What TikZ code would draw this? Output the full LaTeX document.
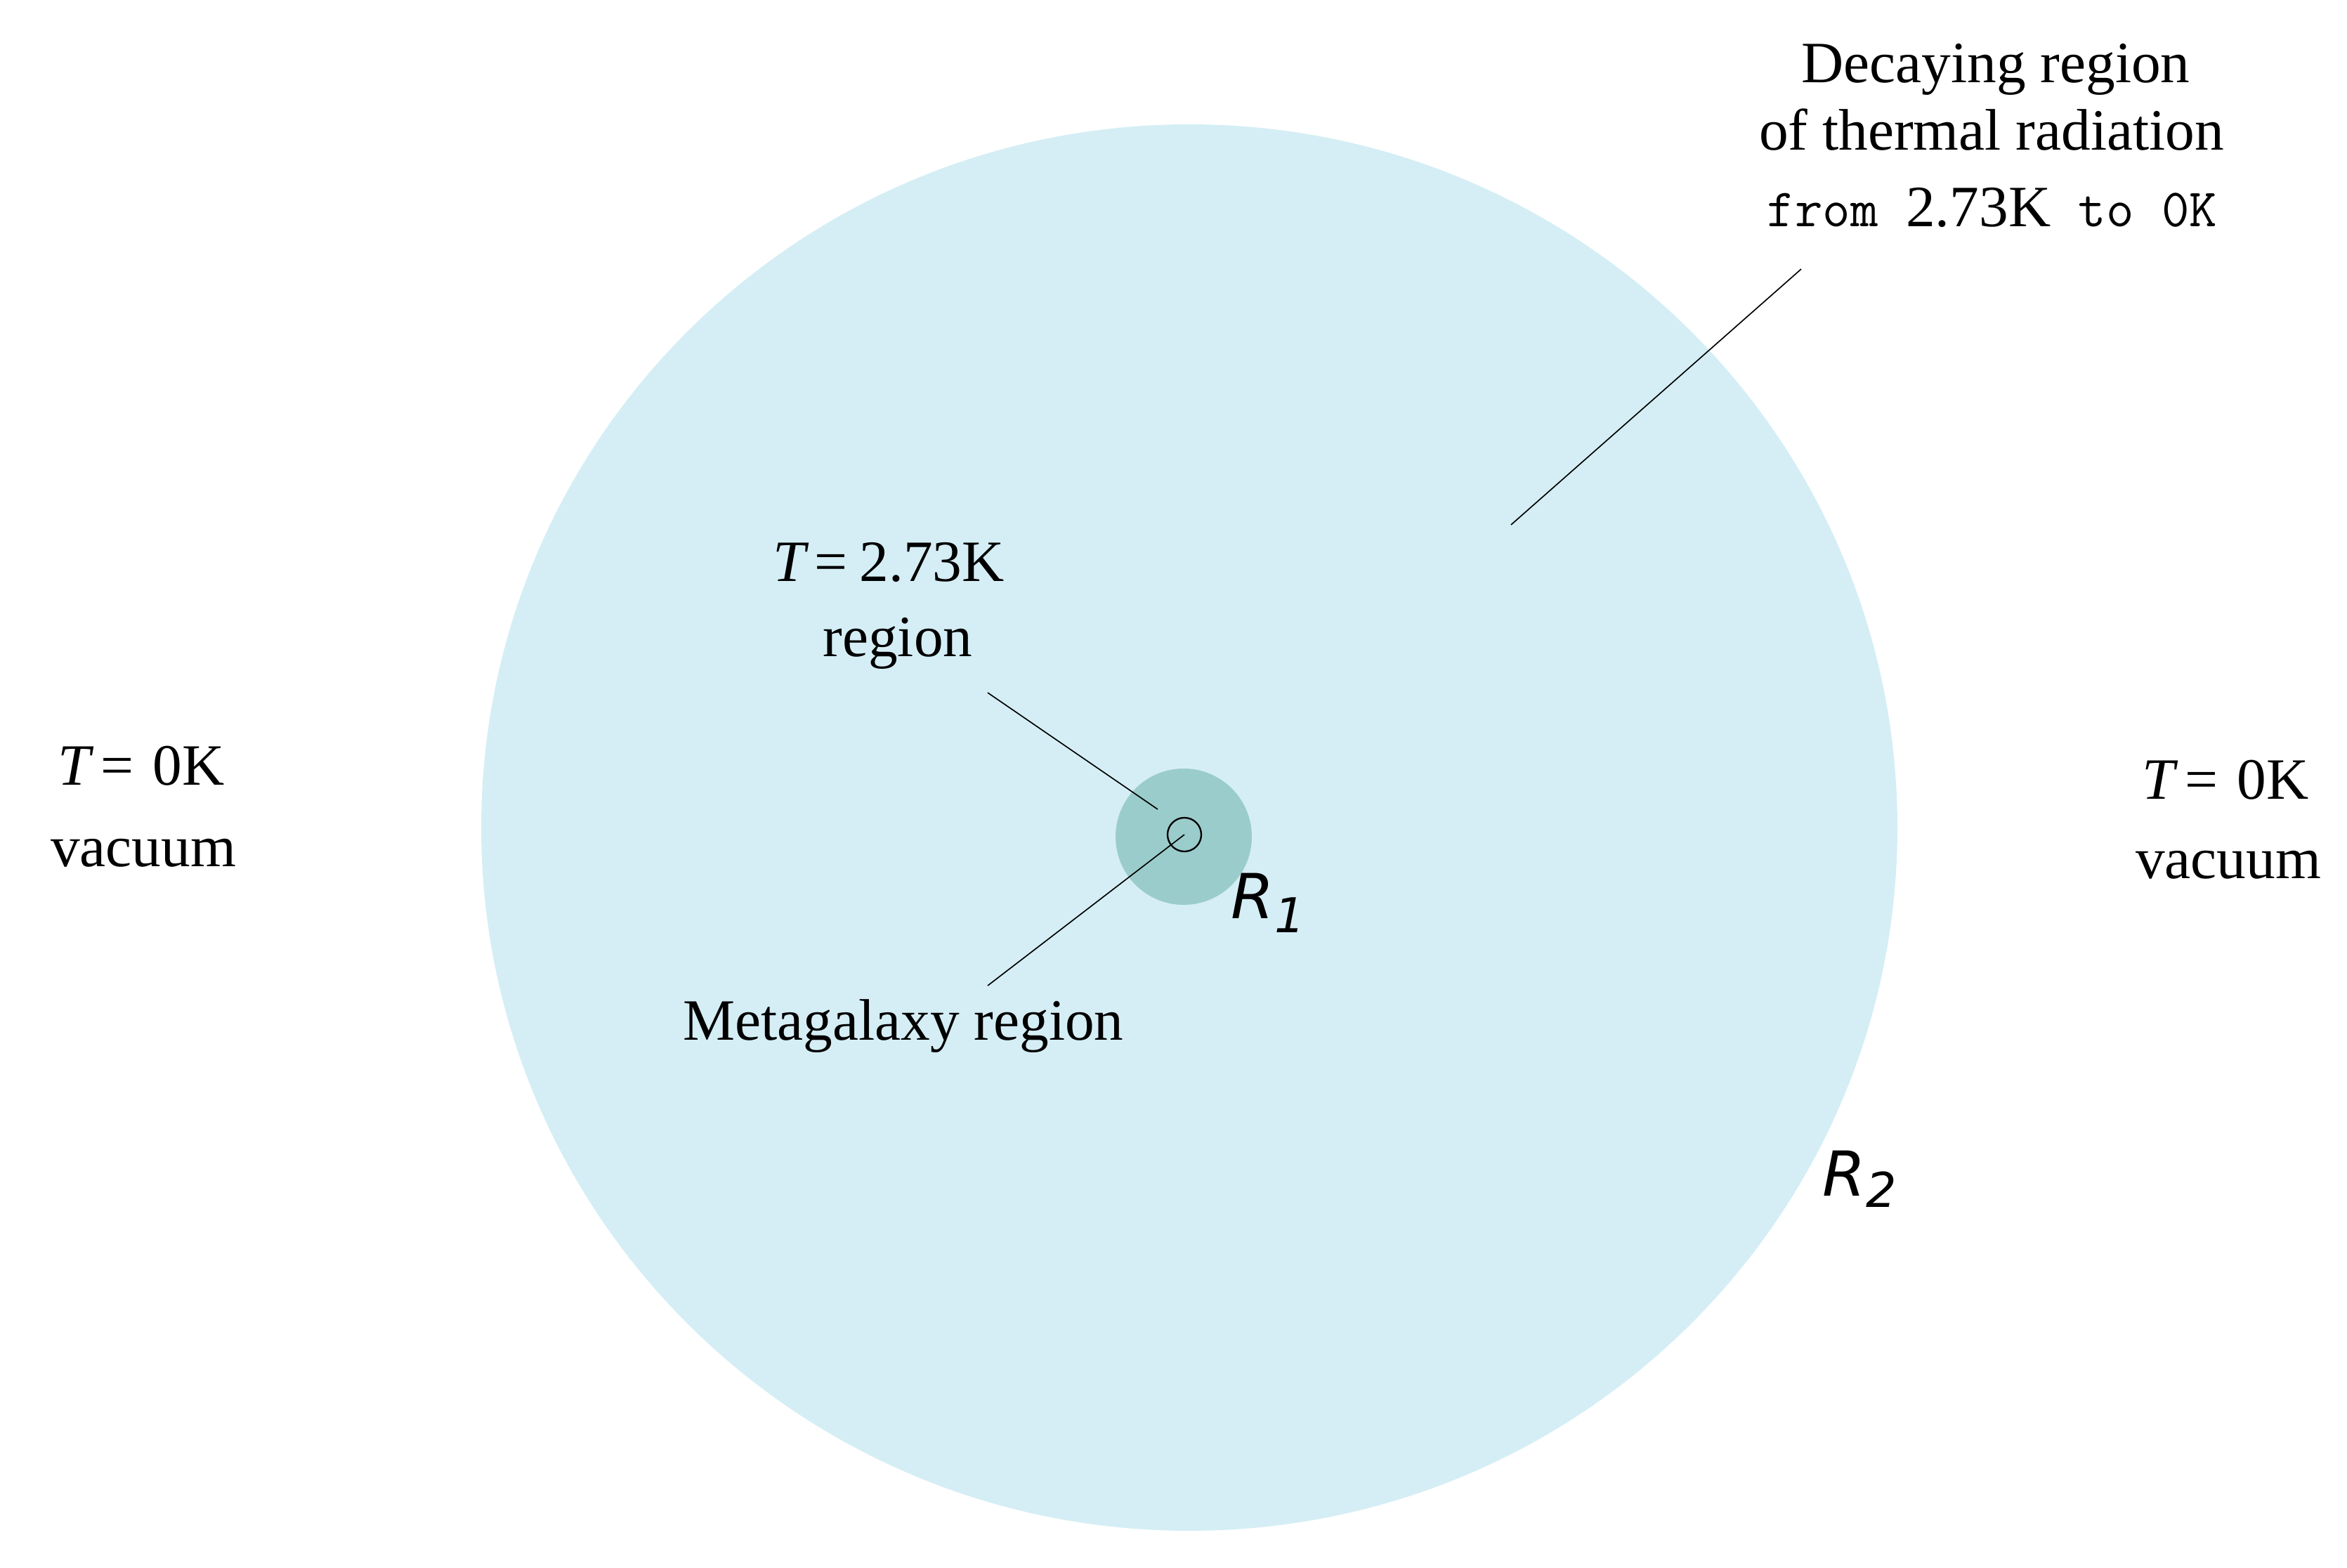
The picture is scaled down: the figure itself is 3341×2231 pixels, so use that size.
\documentclass[tikz,border=0pt]{standalone}
\usepackage{fontspec}
\usetikzlibrary{shapes.geometric}
\setmainfont{Liberation Serif}
\newfontfamily\rfont{DejaVu Sans}
\newcommand\monotext[1]{{\ttfamily\fontsize{23}{28}\selectfont#1}}
\definecolor{outerblue}{RGB}{213,238,245}
\definecolor{innerteal}{RGB}{155,204,204}
\begin{document}
\begin{tikzpicture}[x=0.3pt,y=-0.3pt,
  lbl/.style={font=\fontsize{25}{30}\selectfont, inner sep=0pt, anchor=base},
  rlbl/.style={font=\rfont\itshape\fontsize{26.5}{30}\selectfont, inner sep=0pt, anchor=base west},
  lead/.style={draw=black, line width=0.5pt},
  disc/.style={circle, inner sep=0pt, draw=none}]
\useasboundingbox (0,0) rectangle (3341,2231);
% regions
\node[ellipse, inner sep=0pt, draw=none, fill=outerblue, minimum width=604.8pt, minimum height=600.6pt] (outer) at (1693,1178) {};
\node[disc, fill=innerteal, minimum size=58.2pt] (inner) at (1685,1191) {};
\node[circle, inner sep=0pt, draw=black, line width=0.7pt, minimum size=14.4pt] (core) at (1686,1188) {};
% texts
\node[lbl] (dec1) at (2841,117) {Decaying region};
\node[lbl] (dec2) at (2835,213) {of thermal radiation};
\node[lbl] (dec3) at (2836,322) {\monotext{from }2.73K\monotext{ to 0K}};
\node[lbl] (tmid) at (1265,827) {\textit{T}\hspace{0.1em}=\hspace{0.2em}2.73K};
\node[lbl] (rmid) at (1278,934) {region};
\node[lbl] (meta) at (1286,1480) {Metagalaxy region};
\node[lbl] (tleft) at (201,1117) {\textit{T}\hspace{0.12em}=\hspace{0.33em}0K};
\node[lbl] (vleft) at (204,1233) {vacuum};
\node[lbl] (tright) at (3168,1137) {\textit{T}\hspace{0.12em}=\hspace{0.33em}0K};
\node[lbl] (vright) at (3172,1250) {vacuum};
\node[rlbl] (r1) at (1752,1307) {R\raisebox{-6pt}{\fontsize{20.5}{24}\selectfont 1}};
\node[rlbl] (r2) at (2594,1702) {R\raisebox{-5pt}{\fontsize{20.5}{24}\selectfont 2}};
% leader lines
\coordinate (decA) at (2564,383);
\coordinate (decB) at (2151,747);
\coordinate (midA) at (1406,986);
\coordinate (midB) at (1648,1152);
\coordinate (metaA) at (1406,1403);
\draw[lead] (decA) -- (decB);
\draw[lead] (midA) -- (midB);
\draw[lead] (metaA) -- (core.center);
\end{tikzpicture}
\end{document}
